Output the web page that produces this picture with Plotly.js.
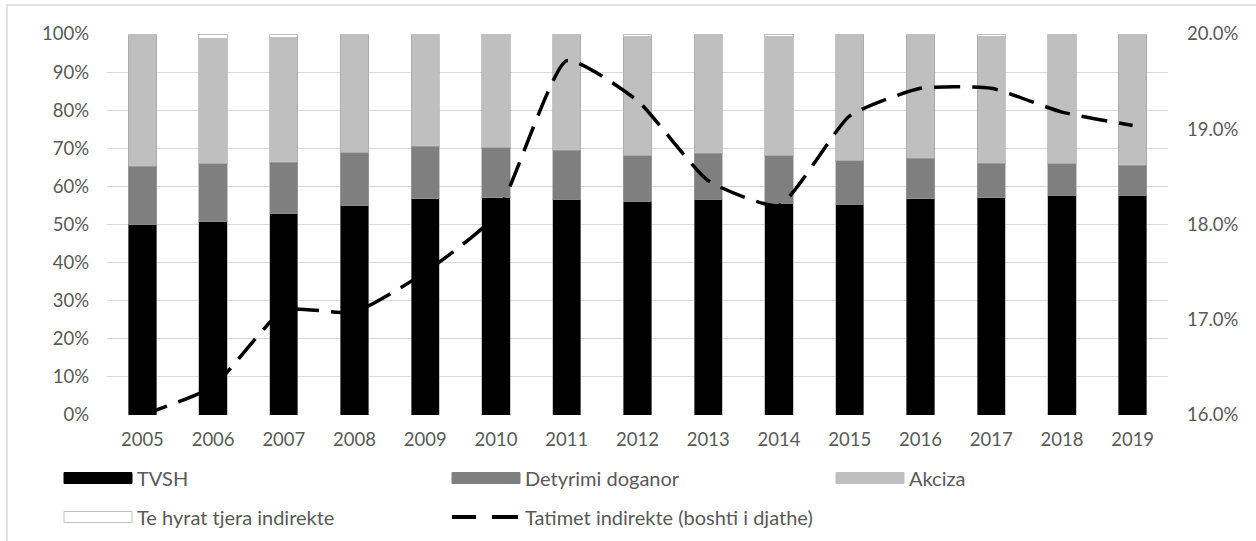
<!DOCTYPE html>
<html>
<head>
<meta charset="utf-8">
<script src="https://cdn.plot.ly/plotly-3.0.1.min.js"></script>
<style>html,body{margin:0;padding:0;background:#fff;}#chart{width:1256px;height:541px;}</style>
</head>
<body>
<div id="chart"></div>
<script>
// ---- data ----
const years = ["2005","2006","2007","2008","2009","2010","2011","2012","2013","2014","2015","2016","2017","2018","2019"];
const tvsh      = [50.1, 50.9, 52.9, 55.0, 56.7, 57.0, 56.6, 56.1, 56.6, 55.6, 55.3, 56.7, 57.0, 57.7, 57.7];
const doganor   = [15.2, 15.1, 13.4, 13.8, 13.8, 13.1, 12.9, 12.0, 12.1, 12.5, 11.4, 10.7,  9.1,  8.3,  7.9];
const akciza    = [34.3, 32.7, 32.9, 30.8, 29.5, 29.9, 30.5, 31.2, 31.3, 31.2, 33.3, 32.4, 33.3, 34.0, 34.4];
const tjera     = [ 0.4,  1.3,  0.8,  0.4,  0.0,  0.0,  0.0,  0.7,  0.0,  0.7,  0.0,  0.2,  0.6,  0.0,  0.0];
const tatimet   = [16.0, 16.3, 17.1, 17.08, 17.5, 18.1, 19.72, 19.3, 18.46, 18.2, 19.14, 19.43, 19.43, 19.18, 19.04];

const names = ["TVSH", "Detyrimi doganor", "Akciza", "Te hyrat tjera indirekte", "Tatimet indirekte (boshti i djathe)"];
const colors = ["#000000", "#7f7f7f", "#bfbfbf", "#ffffff"];

// ---- geometry ----
const W = 1256, H = 541;
const L = 107, R = 1168, T = 34, B = 415;
const pw = R - L, ph = B - T;
const px = x => (x - L) / pw;
const py = y => (B - y) / ph;

const FONT = "Lato, 'Open Sans', sans-serif";
const TXT = "#595959";
const TICK = 18.5;
const LEG = 20;

const barSeries = [tvsh, doganor, akciza, tjera];
const traces = barSeries.map((vals, i) => ({
  type: "bar",
  name: names[i],
  x: years,
  y: vals,
  marker: {color: colors[i], line: {color: i === 3 ? "#bfbfbf" : "rgba(160,160,160,0.6)", width: 1}},
  showlegend: false,
  hoverinfo: "y+name"
}));
traces.push({
  type: "scatter",
  mode: "lines",
  name: names[4],
  x: years,
  y: tatimet,
  yaxis: "y2",
  line: {color: "#000000", width: 3.5, dash: "26px,12px", shape: "spline", smoothing: 0.5},
  showlegend: false
});

// ---- custom legend (shapes + text) ----
const shapes = [
  {type: "rect", xref: "paper", yref: "paper", x0: px(7), x1: px(1300), y0: py(5), y1: py(600),
   line: {color: "#d9d9d9", width: 1.5}, fillcolor: "rgba(0,0,0,0)", layer: "below"}
];
const annotations = [];
const legendItems = [
  {col: 64, row: 478, kind: "bar", color: colors[0], text: names[0]},
  {col: 452, row: 478, kind: "bar", color: colors[1], text: names[1]},
  {col: 836, row: 478, kind: "bar", color: colors[2], text: names[2]},
  {col: 64, row: 517, kind: "bar", color: colors[3], text: names[3]},
  {col: 452, row: 517, kind: "line", color: "#000", text: names[4]}
];
legendItems.forEach(it => {
  if (it.kind === "bar") {
    shapes.push({type: "rect", xref: "paper", yref: "paper",
      x0: px(it.col), x1: px(it.col + 68), y0: py(it.row - 5.5), y1: py(it.row + 5.5),
      fillcolor: it.color, line: {color: it.color === "#ffffff" ? "#bfbfbf" : it.color, width: 1}});
  } else {
    shapes.push({type: "line", xref: "paper", yref: "paper",
      x0: px(it.col), x1: px(it.col + 24), y0: py(it.row), y1: py(it.row), line: {color: "#000", width: 4}});
    shapes.push({type: "line", xref: "paper", yref: "paper",
      x0: px(it.col + 40), x1: px(it.col + 66), y0: py(it.row), y1: py(it.row), line: {color: "#000", width: 4}});
  }
  annotations.push({xref: "paper", yref: "paper", x: px(it.col + 71), y: py(it.row),
    xanchor: "left", yanchor: "middle", showarrow: false, text: it.text,
    font: {family: FONT, size: LEG, color: TXT}});
});

const layout = {
  width: W, height: H,
  margin: {l: L, r: W - R, t: T, b: H - B, pad: 0},
  paper_bgcolor: "#ffffff",
  plot_bgcolor: "#ffffff",
  barmode: "stack",
  bargap: 0.6,
  showlegend: false,
  font: {family: FONT, size: TICK, color: TXT},
  xaxis: {type: "category", showgrid: false, zeroline: false, showline: false, ticks: "",
          ticklabelstandoff: 11, tickfont: {family: FONT, size: TICK, color: TXT}},
  yaxis: {range: [0, 100], dtick: 10, ticksuffix: "%", showgrid: true, gridcolor: "#d9d9d9", gridwidth: 1,
          zeroline: false, showline: false, ticks: "", ticklabelstandoff: 17,
          tickfont: {family: FONT, size: TICK, color: TXT}},
  yaxis2: {range: [16, 20], dtick: 1, tickformat: ".1f", ticksuffix: "%", overlaying: "y", side: "right",
           showgrid: false, zeroline: false, showline: false, ticks: "", ticklabelstandoff: 18,
           tickfont: {family: FONT, size: TICK, color: TXT}},
  shapes: shapes,
  annotations: annotations
};

Plotly.newPlot("chart", traces, layout, {displayModeBar: false, staticPlot: true});
</script>
</body>
</html>
